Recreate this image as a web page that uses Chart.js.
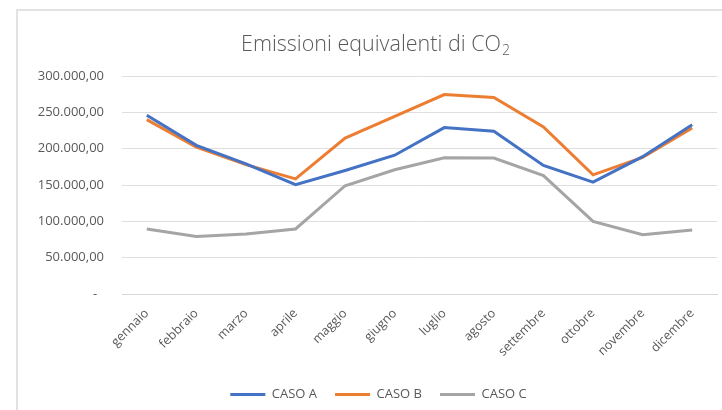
<!DOCTYPE html>
<html>
<head>
<meta charset="utf-8">
<script src="https://cdn.jsdelivr.net/npm/chart.js@4"></script>
<style>
  html, body { margin: 0; padding: 0; background: #fff; }
  #wrap { position: relative; width: 722px; height: 410px; overflow: hidden; }
  #frame { position: absolute; left: 16px; top: 9px; width: 800px; height: 500px;
           border-left: 2px solid #e2e2e2; border-top: 2px solid #e2e2e2; }
  canvas { position: absolute; left: 0; top: 0; }
</style>
</head>
<body>
<div id="wrap">
  <div id="frame"></div>
  <canvas id="emissioni" width="722" height="410"></canvas>
</div>
<script>
const mesi = ['gennaio', 'febbraio', 'marzo', 'aprile', 'maggio', 'giugno',
              'luglio', 'agosto', 'settembre', 'ottobre', 'novembre', 'dicembre'];
const casoA = [246000, 204500, 179000, 150500, 170000, 191000, 229000, 224000, 177000, 154000, 189000, 233000];
const casoB = [240000, 202000, 178000, 158500, 214500, 244500, 274500, 270500, 230000, 164000, 188000, 228500];
const casoC = [89500, 79000, 82500, 89500, 149000, 171000, 187500, 187000, 163000, 100000, 81500, 88000];
const yTicks = [0, 50000, 100000, 150000, 200000, 250000, 300000];

const grigioTesto = '#595959';
const fontBase = { family: 'Open Sans', size: 13 };

// 300000 -> "300.000,00", zero shown as a dash
function formatta(v) {
    if (v === 0) return '-  ';
    return String(v).replace(/\B(?=(\d{3})+(?!\d))/g, '.') + ',00';
}

// chart title with subscript 2
const titolo = {
    id: 'titolo',
    afterDraw(chart) {
        const ctx = chart.ctx;
        const main = 'Emissioni equivalenti di CO';
        ctx.save();
        ctx.fillStyle = grigioTesto;
        ctx.textBaseline = 'alphabetic';
        ctx.font = '300 21.5px "Open Sans"';
        const w1 = ctx.measureText(main).width;
        ctx.font = '300 14px "Open Sans"';
        const w2 = ctx.measureText('2').width;
        const x0 = 375 - (w1 + w2) / 2;
        ctx.font = '300 21.5px "Open Sans"';
        ctx.fillText(main, x0, 51);
        ctx.font = '300 14px "Open Sans"';
        ctx.fillText('2', x0 + w1 + 1, 55);
        ctx.restore();
    }
};

// nudge the legend a little to the right of the canvas centre
const spostaLegenda = {
    id: 'spostaLegenda',
    afterLayout(chart) {
        if (!chart.legend) return;
        chart.legend.left += 20;
        chart.legend.right += 20;
    }
};

const ctx = document.getElementById('emissioni').getContext('2d');
new Chart(ctx, {
    type: 'line',
    data: {
        labels: mesi,
        datasets: [
            { label: 'CASO A', data: casoA, borderColor: '#4472C4', backgroundColor: '#4472C4' },
            { label: 'CASO B', data: casoB, borderColor: '#ED7D31', backgroundColor: '#ED7D31' },
            { label: 'CASO C', data: casoC, borderColor: '#A5A5A5', backgroundColor: '#A5A5A5' }
        ]
    },
    options: {
        responsive: false,
        animation: false,
        elements: {
            line: { borderWidth: 3, tension: 0 },
            point: { radius: 0 }
        },
        layout: { padding: { left: 0, right: 5, top: 76, bottom: -1 } },
        plugins: {
            legend: {
                position: 'bottom',
                labels: {
                    boxWidth: 35,
                    boxHeight: 0,
                    padding: 18,
                    color: grigioTesto,
                    font: fontBase
                }
            },
            tooltip: { enabled: false }
        },
        scales: {
            x: {
                offset: true,
                grid: { display: false },
                border: { color: '#d9d9d9' },
                ticks: {
                    maxRotation: 45,
                    minRotation: 45,
                    padding: 4,
                    color: grigioTesto,
                    font: { family: 'Open Sans', size: 12.5 }
                },
                afterFit(scale) { scale.height = 76; }
            },
            y: {
                min: 0,
                max: 300000,
                afterBuildTicks(scale) { scale.ticks = yTicks.map(v => ({ value: v })); },
                ticks: {
                    padding: 18,
                    color: grigioTesto,
                    font: fontBase,
                    callback: v => formatta(v)
                },
                grid: { color: '#dedede', drawTicks: false },
                border: { display: false },
                afterFit(scale) { scale.width = 122; }
            }
        }
    },
    plugins: [titolo, spostaLegenda]
});
</script>
</body>
</html>
